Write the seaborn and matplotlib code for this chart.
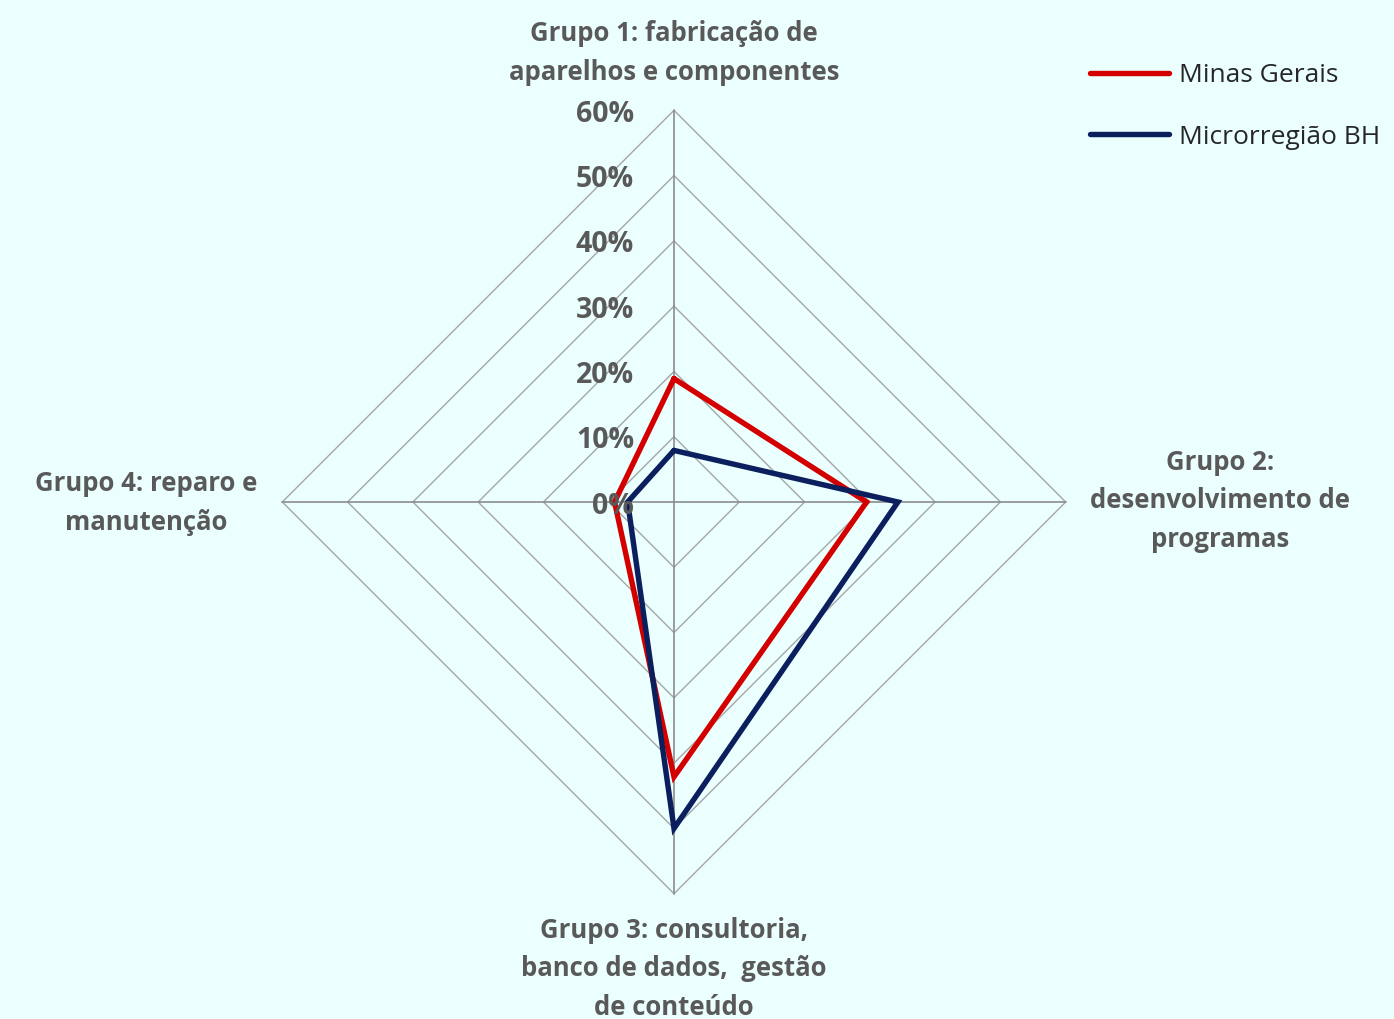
import numpy as np
import pandas as pd
import matplotlib
matplotlib.use("Agg")
import matplotlib.pyplot as plt
import seaborn as sns
from matplotlib.lines import Line2D

# ---- data ----
categories = [
    "Grupo 1: fabricação de\naparelhos e componentes",
    "Grupo 2:\ndesenvolvimento de\nprogramas",
    "Grupo 3: consultoria,\nbanco de dados,  gestão\nde conteúdo",
    "Grupo 4: reparo e\nmanutenção",
]
series_names = ["Minas Gerais", "Microrregião BH"]
minas_gerais = [0.189, 0.295, 0.421, 0.091]
microrregiao_bh = [0.079, 0.343, 0.500, 0.071]
tick_values = [0.0, 0.1, 0.2, 0.3, 0.4, 0.5, 0.6]
tick_labels = ["0%", "10%", "20%", "30%", "40%", "50%", "60%"]

BG = "#EBFFFF"
TXT = "#595959"
colors = ["#D40000", "#0B1F5E"]

sns.set_theme(style="white")
plt.rcParams["font.family"] = ["Open Sans", "DejaVu Sans"]

W, H = 1394, 1019
fig = plt.figure(figsize=(W / 100, H / 100), dpi=100, facecolor=BG)
ax = fig.add_axes([0, 0, 1, 1], facecolor=BG)

cx, cy = 674, 502           # centre in pixels
ppu = 391.7 / 0.6           # pixels per data unit
ax.set_xlim(-cx / ppu, (W - cx) / ppu)
ax.set_ylim(-(H - cy) / ppu, cy / ppu)
ax.axis("off")

n = len(categories)
angles = np.array([np.pi / 2 - 2 * np.pi * i / n for i in range(n)])

# grid diamonds
for r in tick_values[1:]:
    xs = list(r * np.cos(angles)) + [r * np.cos(angles[0])]
    ys = list(r * np.sin(angles)) + [r * np.sin(angles[0])]
    ax.plot(xs, ys, color="#A6A6A6", lw=1.0, zorder=1)
# spokes
rmax = tick_values[-1]
for a in angles:
    ax.plot([0, rmax * np.cos(a)], [0, rmax * np.sin(a)], color="#8C8C8C", lw=1.2, zorder=1)

# series
rows = []
for name, vals in zip(series_names, [minas_gerais, microrregiao_bh]):
    v = list(vals) + [vals[0]]
    a = list(angles) + [angles[0]]
    for k, (vv, aa) in enumerate(zip(v, a)):
        rows.append({"series": name, "order": k, "x": vv * np.cos(aa), "y": vv * np.sin(aa)})
df = pd.DataFrame(rows)
sns.lineplot(data=df, x="x", y="y", hue="series", units="series", estimator=None,
             sort=False, palette=colors, linewidth=3.9, ax=ax, legend=False, zorder=3,
             solid_joinstyle="miter")

# radial tick labels
for v, lab in zip(tick_values, tick_labels):
    ax.text(-40 / ppu, v - 4 / ppu, lab, ha="right", va="center", fontsize=20.5,
            fontweight="bold", color=TXT, zorder=4)

# category labels
lab_kw = dict(fontsize=18.5, fontweight="bold", color=TXT, linespacing=1.55, ha="center")
ax.text(0, (cy - 53) / ppu, categories[0], va="center", **lab_kw)
ax.text((1220 - cx) / ppu, (cy - 501) / ppu, categories[1], va="center", **lab_kw)
ax.text(0, (cy - 969) / ppu, categories[2], va="center", **lab_kw)
ax.text((146 - cx) / ppu, (cy - 503) / ppu, categories[3], va="center", **lab_kw)

# legend
handles = [Line2D([0], [0], color=c, lw=3.9, solid_capstyle="round") for c in colors]
fig.legend(handles, series_names, loc="upper left",
           bbox_to_anchor=(1090 / W, 1 - 63 / H), bbox_transform=fig.transFigure,
           frameon=False, fontsize=19, handlelength=3.0, handletextpad=0.38,
           labelspacing=1.39, borderpad=0, borderaxespad=0, labelcolor="#262626")

fig.savefig("out.png", dpi=100, facecolor=BG)
